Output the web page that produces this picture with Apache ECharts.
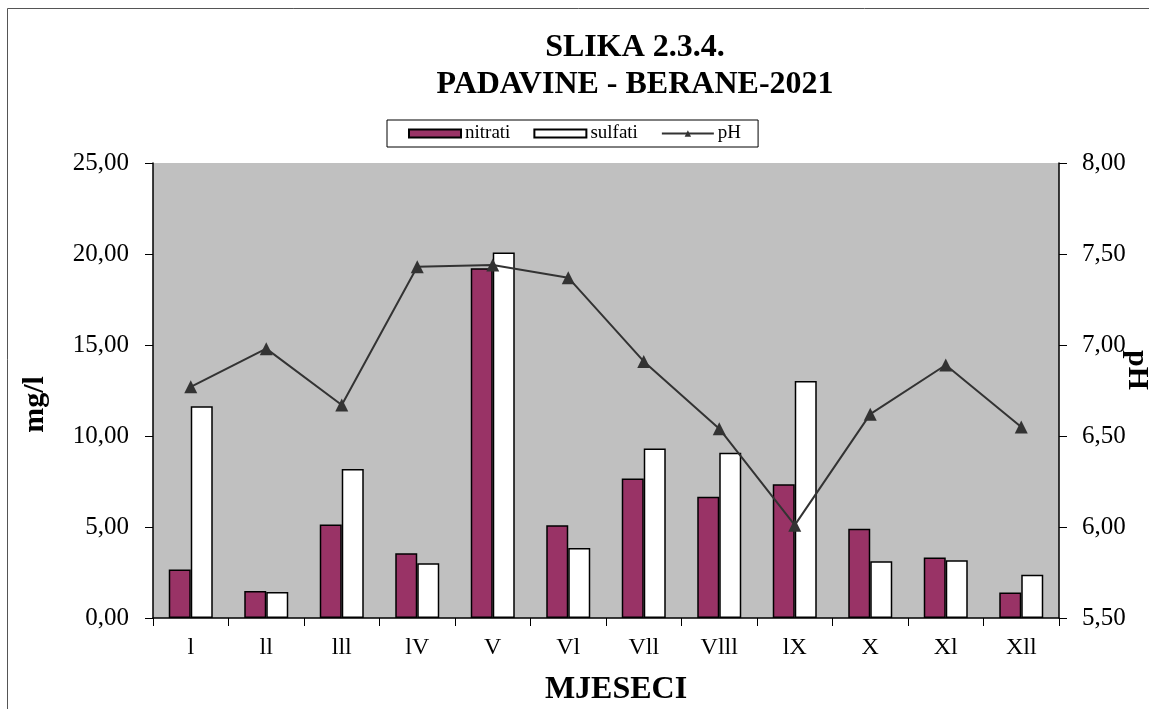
<!DOCTYPE html>
<html>
<head>
<meta charset="utf-8">
<script src="https://cdn.jsdelivr.net/npm/echarts@6/dist/echarts.min.js"></script>
<style>
  html, body { margin: 0; padding: 0; background: #fff; }
  #main { width: 1149px; height: 709px; }
</style>
</head>
<body>
<div id="main"></div>
<script>
// mjeseci (rimski brojevi, kao u originalu)
const months = ['l', 'll', 'lll', 'lV', 'V', 'Vl', 'Vll', 'Vlll', 'lX', 'X', 'Xl', 'Xll'];
const nitrati = [2.66, 1.49, 5.14, 3.56, 19.22, 5.10, 7.67, 6.66, 7.35, 4.90, 3.32, 1.40];
const sulfati = [11.64, 1.43, 8.18, 3.01, 20.08, 3.85, 9.32, 9.08, 13.02, 3.12, 3.17, 2.37];
const ph = [6.77, 6.98, 6.67, 7.43, 7.44, 7.37, 6.91, 6.54, 6.01, 6.62, 6.89, 6.55];

const serif = 'Liberation Serif';
const fmt = v => v.toFixed(2).replace('.', ',');

let chart = echarts.init(document.getElementById('main'), null, { renderer: 'canvas' });

chart.setOption({
  backgroundColor: '#fff',
  animation: false,
  textStyle: { fontFamily: serif, color: '#000' },
  title: {
    text: 'SLIKA 2.3.4.\nPADAVINE - BERANE-2021',
    left: 630, top: 24,
    textAlign: 'center',
    textStyle: { fontFamily: serif, fontSize: 32, fontWeight: 'bold', color: '#000', lineHeight: 37 }
  },
  legend: {
    left: 387, top: 120,
    padding: [4, 17, 4, 21],
    itemGap: 23,
    borderColor: '#000', borderWidth: 1,
    itemWidth: 52, itemHeight: 8,
    textStyle: { fontFamily: serif, fontSize: 19, color: '#000', padding: [0, 0, 0, -1] },
    data: [
      { name: 'nitrati', icon: 'rect' },
      { name: 'sulfati', icon: 'rect' },
      { name: 'pH' }
    ]
  },
  grid: {
    left: 153, right: 90, top: 163, bottom: 91,
    outerBoundsMode: 'none',
    show: true, backgroundColor: '#C0C0C0', borderWidth: 0
  },
  xAxis: {
    type: 'category',
    data: months,
    name: 'MJESECI',
    nameLocation: 'middle',
    nameGap: 56,
    nameTextStyle: { fontFamily: serif, fontSize: 32, fontWeight: 'bold', color: '#000', padding: [0, 0, 0, 20] },
    axisLine: { lineStyle: { color: '#000', width: 1.5 } },
    axisTick: { show: true, length: 8, lineStyle: { color: '#000' } },
    axisLabel: { fontFamily: serif, fontSize: 24, color: '#000', margin: 18 }
  },
  yAxis: [
    {
      type: 'value', min: 0, max: 25, interval: 5,
      name: 'mg/l',
      nameLocation: 'middle',
      nameGap: 103,
      nameRotate: 90,
      nameTextStyle: { fontFamily: serif, fontSize: 30, fontWeight: 'bold', color: '#000', padding: [0, 28, 0, 0] },
      axisLine: { show: true, lineStyle: { color: '#000', width: 1.5 } },
      axisTick: { show: true, length: 8, lineStyle: { color: '#000' } },
      splitLine: { show: false },
      axisLabel: { fontFamily: serif, fontSize: 25, color: '#000', margin: 24, formatter: fmt }
    },
    {
      type: 'value', min: 5.5, max: 8, interval: 0.5,
      axisLine: { show: true, lineStyle: { color: '#000', width: 1.5 } },
      axisTick: { show: true, length: 8, lineStyle: { color: '#000' } },
      splitLine: { show: false },
      axisLabel: { fontFamily: serif, fontSize: 25, color: '#000', margin: 23, formatter: fmt }
    }
  ],
  series: [
    {
      name: 'nitrati', type: 'bar', data: nitrati,
      barWidth: 22, barGap: '0%',
      itemStyle: { color: '#993366', borderColor: '#000', borderWidth: 1.5 }
    },
    {
      name: 'sulfati', type: 'bar', data: sulfati,
      barWidth: 22, barGap: '0%',
      itemStyle: { color: '#fff', borderColor: '#000', borderWidth: 1.5 }
    },
    {
      name: 'pH', type: 'line', yAxisIndex: 1, data: ph,
      symbol: 'triangle', symbolSize: 13,
      lineStyle: { color: '#333', width: 2 },
      itemStyle: { color: '#333', borderWidth: 0 }
    }
  ],
  graphic: [
    {
      type: 'rect',
      shape: { x: 7.5, y: 8.5, width: 1160, height: 720 },
      style: { fill: 'none', stroke: '#555', lineWidth: 1 },
      silent: true
    },
    // naziv desne ose (pH), okrenut kao u originalu
    {
      type: 'text',
      x: 1137, y: 370,
      rotation: -Math.PI / 2,
      style: {
        text: 'pH',
        font: 'bold 30px "Liberation Serif"',
        fill: '#000',
        align: 'center',
        verticalAlign: 'middle'
      },
      silent: true
    }
  ]
});
</script>
</body>
</html>
